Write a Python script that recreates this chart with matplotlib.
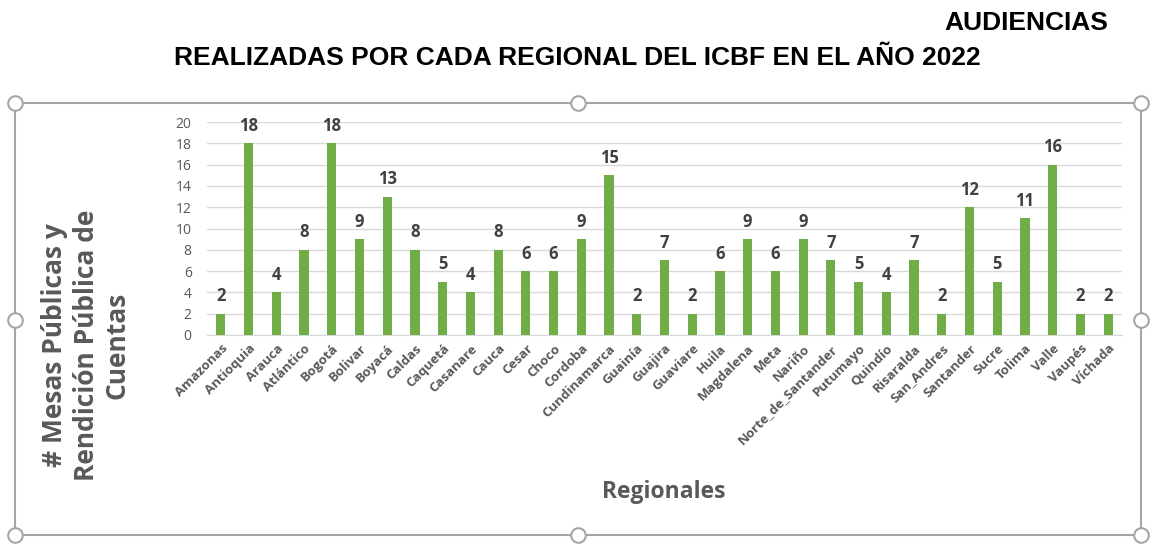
import matplotlib
matplotlib.use("Agg")
import matplotlib.pyplot as plt
from matplotlib.patches import Rectangle

regions = ["Amazonas", "Antioquia", "Arauca", "Atlántico", "Bogotá", "Bolivar", "Boyacá",
           "Caldas", "Caquetá", "Casanare", "Cauca", "Cesar", "Choco", "Cordoba",
           "Cundinamarca", "Guainía", "Guajira", "Guaviare", "Huila", "Magdalena", "Meta",
           "Nariño", "Norte_de_Santander", "Putumayo", "Quindío", "Risaralda", "San_Andres",
           "Santander", "Sucre", "Tolima", "Valle", "Vaupés", "Víchada"]
values = [2, 18, 4, 8, 18, 9, 13, 8, 5, 4, 8, 6, 6, 9, 15, 2, 7, 2, 6, 9, 6, 9, 7, 5, 4, 7, 2,
          12, 5, 11, 16, 2, 2]
yticks = [0, 2, 4, 6, 8, 10, 12, 14, 16, 18, 20]

W, H = 1151, 544
fig = plt.figure(figsize=(W / 100, H / 100), dpi=100)

# overlay for frame and handles (pixel coords)
ov = fig.add_axes([0, 0, 1, 1], zorder=0)
ov.set_xlim(0, W)
ov.set_ylim(H, 0)
ov.axis("off")
ov.add_patch(Rectangle((15, 103), 1141 - 15, 535 - 103, fill=False, edgecolor="#a6a6a6", lw=1.5))
hx = [15, 578, 1141, 15, 1141, 15, 578, 1141]
hy = [103, 103, 103, 320, 320, 535, 535, 535]
ov.scatter(hx, hy, s=110, facecolor="white", edgecolor="#a6a6a6", linewidth=1.5, zorder=5)

title_font = ["Liberation Sans", "DejaVu Sans"]
fig.text(1108 / W, 1 - 23 / H, "AUDIENCIAS", ha="right", va="center", fontsize=19,
         fontweight="bold", family=title_font)
fig.text(577 / W, 1 - 58 / H, "REALIZADAS POR CADA REGIONAL DEL ICBF EN EL AÑO 2022",
         ha="center", va="center", fontsize=19, fontweight="bold", family=title_font)

ax = fig.add_axes([207 / W, 1 - 335 / H, (1122 - 207) / W, (335 - 122) / H], zorder=1)
ax.patch.set_alpha(0)
x = list(range(len(regions)))
bars = ax.bar(x, values, width=0.33, color="#70AD47", zorder=3)
ax.set_xlim(-0.5, len(regions) - 0.5)
ax.set_ylim(0, 20)
ax.set_yticks(yticks)
ax.grid(axis="y", color="#d9d9d9", lw=1, zorder=0)
for s in ["top", "right", "left"]:
    ax.spines[s].set_visible(False)
ax.spines["bottom"].set_color("#d9d9d9")
ax.tick_params(axis="both", length=0, colors="#595959")
ax.tick_params(axis="y", labelsize=10, pad=11)
ax.tick_params(axis="x", pad=5)
ax.set_xticks(x)
ax.set_xticklabels(regions, rotation=45, ha="right", rotation_mode="anchor",
                   fontsize=9.5, fontweight="bold", color="#595959", family="Open Sans")
for lab in ax.get_yticklabels():
    lab.set_family("Open Sans")

for xi, v in zip(x, values):
    ax.annotate(str(v), (xi, v), xytext=(0, 6), textcoords="offset points",
                ha="center", va="bottom", fontsize=12, fontweight="bold",
                color="#404040", family="Open Sans")

fig.text(86 / W, 1 - 345 / H, "# Mesas Públicas y\nRendición Pública de\nCuentas",
         rotation=90, ha="center", va="center", fontsize=19, fontweight="bold",
         color="#595959", family="Open Sans", linespacing=1.2)
fig.text(664 / W, 1 - 492 / H, "Regionales", ha="center", va="center", fontsize=16.5,
         fontweight="bold", color="#595959", family="Open Sans")

fig.savefig("out.png", dpi=100)
